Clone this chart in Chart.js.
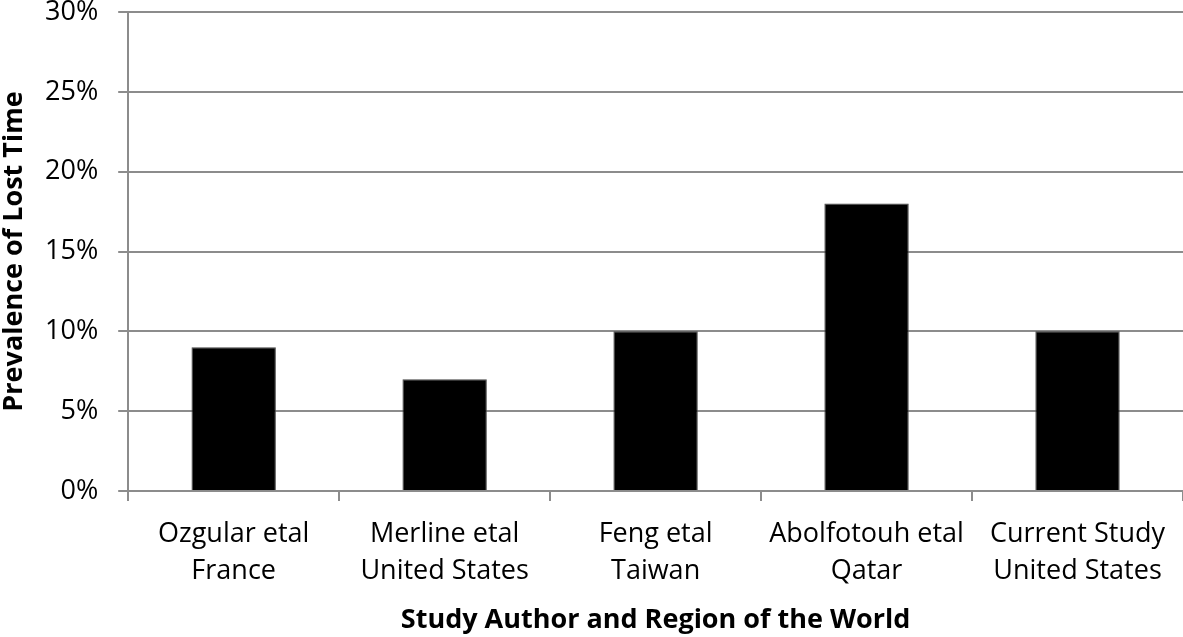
<!DOCTYPE html>
<html>
<head>
<meta charset="utf-8">
<script src="https://cdn.jsdelivr.net/npm/chart.js@4/dist/chart.umd.min.js"></script>
<style>
  html, body { margin: 0; padding: 0; background: #fff; }
  #wrap { width: 1183px; height: 637px; }
</style>
</head>
<body>
<div id="wrap"><canvas id="chart" width="1183" height="637"></canvas></div>
<script>
// data
const studies = [
    ['Ozgular etal', 'France'],
    ['Merline etal', 'United States'],
    ['Feng etal', 'Taiwan'],
    ['Abolfotouh etal', 'Qatar'],
    ['Current Study', 'United States']
];
const prevalence = [9, 7, 10, 18, 10];
const yTicks = [0, 5, 10, 15, 20, 25, 30];

const font = "'Open Sans', 'Liberation Sans', sans-serif";
const gridGray = '#8c8c8c';

new Chart(document.getElementById('chart'), {
    type: 'bar',
    data: {
        labels: studies,
        datasets: [{
            data: prevalence,
            backgroundColor: '#000',
            borderColor: '#444',
            borderWidth: 1,
            categoryPercentage: 1,
            barPercentage: 0.4
        }]
    },
    options: {
        responsive: false,
        animation: false,
        layout: { padding: 0 },
        plugins: { legend: { display: false }, tooltip: { enabled: false } },
        scales: {
            x: {
                grid: { drawOnChartArea: false, drawTicks: true, tickLength: 10, color: gridGray, lineWidth: 2 },
                border: { color: gridGray, width: 2 },
                ticks: { color: '#000', font: { family: font, size: 27, lineHeight: 1.4 }, padding: 14, maxRotation: 0 },
                title: {
                    display: true,
                    text: 'Study Author and Region of the World',
                    color: '#000',
                    font: { family: font, size: 27, weight: 'bold', lineHeight: 1.2 },
                    padding: { top: 0, bottom: 0 }
                }
            },
            y: {
                min: 0,
                max: 30,
                afterBuildTicks: axis => { axis.ticks = yTicks.map(v => ({ value: v })); },
                // tick padding would otherwise push the top gridline down
                afterFit: axis => { axis.paddingTop = 12; },
                grid: { color: gridGray, lineWidth: 2, tickLength: 10 },
                border: { color: gridGray, width: 2 },
                ticks: {
                    color: '#000',
                    font: { family: font, size: 27, lineHeight: 0.9 },
                    padding: 20,
                    callback: v => v + '%'
                },
                title: {
                    display: true,
                    text: 'Prevalence of Lost Time',
                    color: '#000',
                    font: { family: font, size: 27, weight: 'bold', lineHeight: 1.0 },
                    padding: { top: 1, bottom: -3 }
                }
            }
        }
    }
});
</script>
</body>
</html>
